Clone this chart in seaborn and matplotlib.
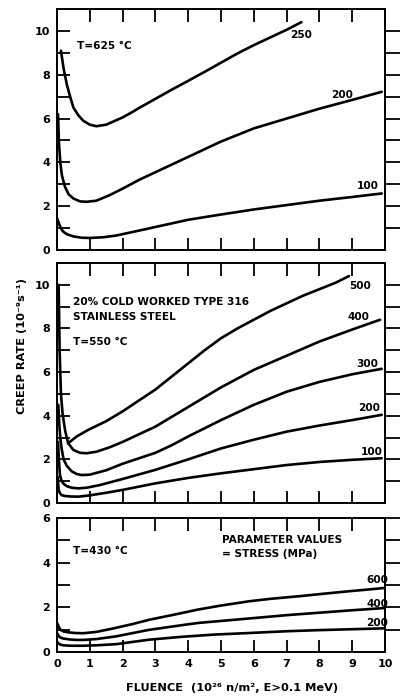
import numpy as np
import pandas as pd
import matplotlib
matplotlib.use("Agg")
import matplotlib.pyplot as plt
import seaborn as sns

# ---------------------------------------------------------------------------
# Creep rate (10^-9 s^-1) of 20% cold worked type 316 stainless steel versus
# fluence (10^26 n/m^2, E > 0.1 MeV); one curve per applied stress (MPa).
# ---------------------------------------------------------------------------

# T = 625 C
fluence_625_250 = [0.12, 0.2, 0.3, 0.4, 0.5, 0.65, 0.8, 1.0, 1.2, 1.5, 2.0, 2.3,
                   2.5, 3.0, 3.3, 3.5, 4.0, 4.3, 4.5, 5.0, 5.5, 6.0, 6.5, 7.0, 7.45]
rate_625_250 = [9.1, 8.3, 7.55, 7.0, 6.5, 6.15, 5.9, 5.72, 5.65, 5.72, 6.05, 6.3,
                6.48, 6.9, 7.15, 7.32, 7.72, 7.97, 8.13, 8.55, 8.97, 9.35, 9.7, 10.05, 10.4]

fluence_625_200 = [0.03, 0.06, 0.1, 0.15, 0.24, 0.35, 0.5, 0.7, 0.9, 1.2, 1.6, 2.0,
                   2.5, 3.0, 3.5, 4.0, 5.0, 6.0, 7.0, 8.0, 9.0, 9.9]
rate_625_200 = [6.2, 4.9, 4.0, 3.4, 2.9, 2.55, 2.35, 2.22, 2.2, 2.25, 2.5, 2.8,
                3.2, 3.55, 3.9, 4.25, 4.95, 5.55, 6.0, 6.45, 6.85, 7.22]

fluence_625_100 = [0.0, 0.05, 0.1, 0.18, 0.3, 0.5, 0.75, 1.0, 1.4, 1.8, 2.3, 3.0,
                   4.0, 5.0, 6.0, 7.0, 8.0, 9.0, 9.9]
rate_625_100 = [1.45, 1.25, 1.05, 0.85, 0.72, 0.62, 0.56, 0.55, 0.58, 0.66, 0.82, 1.05,
                1.38, 1.62, 1.85, 2.05, 2.25, 2.42, 2.58]

# T = 550 C
fluence_550_500 = [0.34, 0.6, 0.95, 1.5, 2.0, 2.5, 3.0, 3.5, 4.0, 4.5, 5.0, 5.5,
                   6.0, 6.5, 7.0, 7.5, 8.0, 8.5, 8.9]
rate_550_500 = [2.74, 3.05, 3.35, 3.75, 4.2, 4.7, 5.2, 5.8, 6.4, 7.0, 7.55, 8.0,
                8.4, 8.8, 9.15, 9.5, 9.8, 10.1, 10.4]

fluence_550_400 = [0.05, 0.08, 0.12, 0.17, 0.25, 0.34, 0.5, 0.7, 0.9, 1.2, 1.6, 2.0,
                   2.5, 3.0, 3.5, 4.0, 5.0, 6.0, 7.0, 8.0, 9.0, 9.85]
rate_550_400 = [10.0, 7.0, 5.0, 4.1, 3.3, 2.74, 2.43, 2.3, 2.28, 2.35, 2.55, 2.8,
                3.15, 3.5, 3.95, 4.4, 5.3, 6.1, 6.75, 7.4, 7.95, 8.4]

fluence_550_300 = [0.04, 0.07, 0.1, 0.14, 0.2, 0.3, 0.45, 0.6, 0.75, 1.0, 1.5, 2.0,
                   2.5, 3.0, 3.5, 4.0, 5.0, 6.0, 7.0, 8.0, 9.0, 9.9]
rate_550_300 = [4.5, 3.6, 3.0, 2.5, 2.0, 1.7, 1.45, 1.33, 1.28, 1.3, 1.5, 1.8,
                2.05, 2.3, 2.65, 3.05, 3.8, 4.5, 5.1, 5.55, 5.9, 6.15]

fluence_550_200 = [0.03, 0.06, 0.09, 0.13, 0.2, 0.3, 0.45, 0.65, 0.9, 1.3, 2.0, 3.0,
                   4.0, 5.0, 6.0, 7.0, 8.0, 9.0, 9.9]
rate_550_200 = [2.8, 1.9, 1.3, 1.05, 0.88, 0.77, 0.7, 0.67, 0.7, 0.82, 1.1, 1.52,
                2.0, 2.5, 2.9, 3.27, 3.55, 3.8, 4.04]

fluence_550_100 = [0.02, 0.05, 0.09, 0.14, 0.25, 0.4, 0.65, 1.0, 1.5, 2.0, 3.0, 4.0,
                   5.0, 6.0, 7.0, 8.0, 9.0, 9.9]
rate_550_100 = [1.2, 0.6, 0.45, 0.36, 0.32, 0.3, 0.29, 0.35, 0.47, 0.6, 0.9, 1.15,
                1.36, 1.55, 1.74, 1.88, 1.98, 2.05]

# T = 430 C
fluence_430_600 = [0.0, 0.05, 0.1, 0.2, 0.35, 0.55, 0.8, 1.2, 1.7, 2.3, 2.8, 3.5,
                   4.3, 5.0, 5.85, 6.5, 7.4, 8.2, 8.9, 9.5, 10.0]
rate_430_600 = [1.3, 1.15, 1.0, 0.92, 0.88, 0.85, 0.84, 0.9, 1.05, 1.25, 1.44, 1.65,
                1.9, 2.08, 2.27, 2.38, 2.5, 2.62, 2.72, 2.8, 2.87]

fluence_430_400 = [0.0, 0.05, 0.1, 0.2, 0.4, 0.6, 0.8, 1.2, 1.8, 2.8, 3.8, 4.3,
                   5.85, 7.0, 8.0, 9.0, 10.0]
rate_430_400 = [0.85, 0.72, 0.65, 0.6, 0.56, 0.54, 0.54, 0.58, 0.7, 0.99, 1.2, 1.3,
                1.5, 1.65, 1.76, 1.87, 1.97]

fluence_430_200 = [0.0, 0.05, 0.1, 0.2, 0.4, 0.6, 0.8, 1.2, 1.8, 2.8, 3.8, 4.8,
                   5.85, 7.0, 8.0, 9.0, 10.0]
rate_430_200 = [0.46, 0.38, 0.33, 0.3, 0.28, 0.28, 0.28, 0.3, 0.35, 0.55, 0.68, 0.78,
                0.85, 0.93, 0.98, 1.02, 1.06]

stresses_625 = [250, 200, 100]
stresses_550 = [500, 400, 300, 200, 100]
stresses_430 = [600, 400, 200]

temperature_labels = ["T=625 °C", "T=550 °C", "T=430 °C"]
x_ticks = list(range(0, 11))


def frame(stresses, fluences, rates):
    parts = [pd.DataFrame({"fluence": f, "rate": r, "stress": s})
             for s, f, r in zip(stresses, fluences, rates)]
    return pd.concat(parts, ignore_index=True)


df_625 = frame(stresses_625, [fluence_625_250, fluence_625_200, fluence_625_100],
               [rate_625_250, rate_625_200, rate_625_100])
df_550 = frame(stresses_550, [fluence_550_500, fluence_550_400, fluence_550_300,
                              fluence_550_200, fluence_550_100],
               [rate_550_500, rate_550_400, rate_550_300, rate_550_200, rate_550_100])
df_430 = frame(stresses_430, [fluence_430_600, fluence_430_400, fluence_430_200],
               [rate_430_600, rate_430_400, rate_430_200])

# ---------------------------------------------------------------------------
# Styling / layout
# ---------------------------------------------------------------------------
sns.set_style("ticks")
plt.rcParams["font.family"] = ["DejaVu Sans"]
plt.rcParams["font.weight"] = "bold"
plt.rcParams["axes.linewidth"] = 1.4

INK = "black"
LINE_W = 1.9
TICK_FS = 8
NOTE_FS = 7.6

fig = plt.figure(figsize=(4.0, 6.97), dpi=100)
fig.patch.set_facecolor("white")
left, width = 57 / 400, 328 / 400
ax_top = fig.add_axes([left, 1 - 250 / 697, width, 241 / 697])
ax_mid = fig.add_axes([left, 1 - 503 / 697, width, 240 / 697])
ax_bot = fig.add_axes([left, 1 - 652 / 697, width, 134 / 697])


def style_axes(ax, ymax, show_x):
    ax.set_xlim(0, 10)
    ax.set_ylim(0, ymax)
    ax.set_xticks(x_ticks)
    ax.set_yticks(np.arange(0, ymax + 0.01, 2))
    ax.set_yticks(np.arange(1, ymax, 2), minor=True)
    ax.tick_params(axis="both", which="both", direction="in", top=True,
                   bottom=True, left=True, right=False, length=9, width=1.3,
                   labelsize=TICK_FS, colors=INK)
    ax.tick_params(axis="y", which="both", pad=5)
    ax.tick_params(axis="x", labelbottom=show_x, pad=5)
    for lab in ax.get_xticklabels() + ax.get_yticklabels():
        lab.set_fontweight("bold")
    for sp in ax.spines.values():
        sp.set_color(INK)
        sp.set_linewidth(1.4)
    sec = ax.secondary_yaxis("right")
    sec.set_yticks(np.arange(1, int(ymax) + 1 if ymax < 7 else int(ymax), 1))
    sec.tick_params(direction="out", length=11, width=1.3, labelright=False,
                    colors=INK)
    sec.spines["right"].set_linewidth(1.4)
    ax.set_xlabel("")
    ax.set_ylabel("")


def draw_curves(ax, df):
    sns.lineplot(data=df, x="fluence", y="rate", units="stress", estimator=None,
                 sort=False, color=INK, linewidth=LINE_W, ax=ax, legend=False)


draw_curves(ax_top, df_625)
draw_curves(ax_mid, df_550)
draw_curves(ax_bot, df_430)

style_axes(ax_top, 11, False)
style_axes(ax_mid, 11, False)
style_axes(ax_bot, 6, True)

# stress labels at the ends of the curves
label_pos_625 = [(7.44, 9.8), (8.69, 7.08), (9.48, 2.92)]
label_pos_550 = [(9.24, 9.95), (9.18, 8.53), (9.45, 6.36), (9.51, 4.37), (9.6, 2.35)]
label_pos_430 = [(9.76, 3.23), (9.76, 2.15), (9.76, 1.3)]
for ax, stresses, positions in [(ax_top, stresses_625, label_pos_625),
                                (ax_mid, stresses_550, label_pos_550),
                                (ax_bot, stresses_430, label_pos_430)]:
    for s, (x, y) in zip(stresses, positions):
        ax.text(x, y, str(s), ha="center", va="center", fontsize=NOTE_FS,
                fontweight="bold", color=INK, clip_on=False)

# temperatures and annotations
ax_top.text(0.6, 9.3, temperature_labels[0], ha="left", va="center",
            fontsize=NOTE_FS, fontweight="bold", color=INK)
ax_mid.text(0.48, 9.22, "20% COLD WORKED TYPE 316", ha="left", va="center",
            fontsize=NOTE_FS, fontweight="bold", color=INK)
ax_mid.text(0.48, 8.53, "STAINLESS STEEL", ha="left", va="center",
            fontsize=NOTE_FS, fontweight="bold", color=INK)
ax_mid.text(0.48, 7.39, temperature_labels[1], ha="left", va="center",
            fontsize=NOTE_FS, fontweight="bold", color=INK)
ax_bot.text(0.48, 4.5, temperature_labels[2], ha="left", va="center",
            fontsize=NOTE_FS, fontweight="bold", color=INK)
ax_bot.text(5.03, 5.0, "PARAMETER VALUES", ha="left", va="center",
            fontsize=NOTE_FS, fontweight="bold", color=INK)
ax_bot.text(5.03, 4.41, "= STRESS (MPa)", ha="left", va="center",
            fontsize=NOTE_FS, fontweight="bold", color=INK)

# shared axis titles
fig.text(22 / 400, 1 - 346 / 697, "CREEP RATE (10\u207b\u2079s\u207b\u00b9)",
         rotation=90, ha="center", va="center", fontsize=8.2,
         fontweight="bold", color=INK)
fig.text(232 / 400, 1 - 688 / 697,
         "FLUENCE  (10\u00b2\u2076 n/m\u00b2, E>0.1 MeV)",
         ha="center", va="center", fontsize=8.2, fontweight="bold", color=INK)

fig.savefig("out.png", dpi=100, facecolor="white")
